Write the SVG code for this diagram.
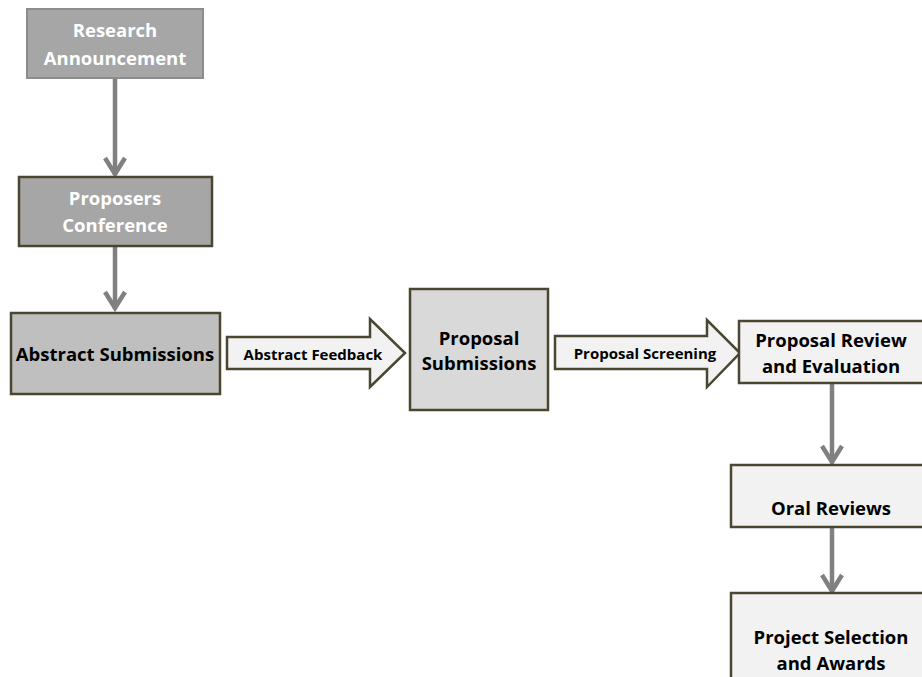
<svg xmlns="http://www.w3.org/2000/svg" width="922" height="677" viewBox="0 0 922 677">
<style>
  .t { font-family: "Open Sans", Lato, "Liberation Sans", sans-serif; font-weight: bold; text-anchor: middle; }
  .big { font-size: 18.5px; }
  .small { font-size: 15px; fill: #000; }
  .w { fill: #ffffff; }
  .k { fill: #000000; }
  .dk { stroke: #4b4630; stroke-width: 2.5; }
  .conn line { stroke: #808080; stroke-width: 4.5; }
  .conn path { fill: none; stroke: #808080; stroke-width: 4.5; stroke-linejoin: miter; }
</style>
<rect width="922" height="677" fill="#ffffff"/>
<g class="conn" id="connectors">
  <line x1="115" y1="78" x2="115" y2="175"/>
  <path d="M105,158 L115,174 L125,158"/>
  <line x1="115" y1="246" x2="115" y2="309"/>
  <path d="M105,292 L115,308 L125,292"/>
  <line x1="832" y1="384" x2="832" y2="462"/>
  <path d="M822,446 L832,462 L842,446"/>
  <line x1="832" y1="527" x2="832" y2="591"/>
  <path d="M822,575 L832,591 L842,575"/>
</g>
<g id="research-announcement">
  <rect x="27" y="9" width="176" height="69" fill="#a6a6a6" stroke="#8c8c8c" stroke-width="2"/>
  <text class="t big w" x="115" y="37">Research</text>
  <text class="t big w" x="115" y="65">Announcement</text>
</g>
<g id="proposers-conference">
  <rect x="19" y="177" width="193" height="69" fill="#a6a6a6" class="dk"/>
  <text class="t big w" x="115" y="205">Proposers</text>
  <text class="t big w" x="115" y="232">Conference</text>
</g>
<g id="abstract-submissions">
  <rect x="11" y="313" width="209" height="81" fill="#bfbfbf" class="dk"/>
  <text class="t big k" x="115" y="361">Abstract Submissions</text>
</g>
<g id="abstract-feedback">
  <path d="M227,337 L370,337 L370,319 L405,353 L370,387 L370,369 L227,369 Z" fill="#f2f2f2" class="dk"/>
  <text class="t small" x="313" y="360">Abstract Feedback</text>
</g>
<g id="proposal-submissions">
  <rect x="410" y="289" width="138" height="121" fill="#d9d9d9" class="dk"/>
  <text class="t big k" x="479" y="345">Proposal</text>
  <text class="t big k" x="479" y="370">Submissions</text>
</g>
<g id="proposal-screening">
  <path d="M555,336 L707,336 L707,320 L740,353 L707,387 L707,369 L555,369 Z" fill="#f2f2f2" class="dk"/>
  <text class="t small" x="645" y="359">Proposal Screening</text>
</g>
<g id="proposal-review">
  <rect x="739" y="321" width="200" height="62" fill="#f2f2f2" class="dk"/>
  <text class="t big k" x="831" y="347">Proposal Review</text>
  <text class="t big k" x="831" y="373">and Evaluation</text>
</g>
<g id="oral-reviews">
  <rect x="731" y="465" width="210" height="62" fill="#f2f2f2" class="dk"/>
  <text class="t big k" x="831" y="515">Oral Reviews</text>
</g>
<g id="project-selection">
  <rect x="731" y="593" width="210" height="100" fill="#f2f2f2" class="dk"/>
  <text class="t big k" x="831" y="644">Project Selection</text>
  <text class="t big k" x="831" y="670">and Awards</text>
</g>
</svg>
